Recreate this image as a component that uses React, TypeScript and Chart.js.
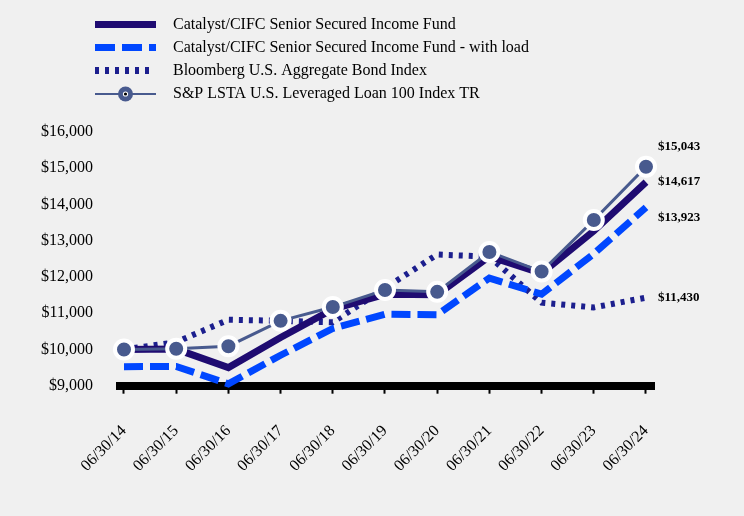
import React, { useEffect, useRef } from 'react';
import { Chart, registerables } from 'chart.js';

Chart.register(...registerables);

const xLabels = ['06/30/14', '06/30/15', '06/30/16', '06/30/17', '06/30/18', '06/30/19', '06/30/20', '06/30/21', '06/30/22', '06/30/23', '06/30/24'];
const fundValues = [10000, 10010, 9500, 10330, 11110, 11520, 11510, 12570, 12100, 13270, 14617];
const withLoadValues = [9525, 9530, 9050, 9840, 10580, 10970, 10960, 11970, 11525, 12640, 13923];
const bondValues = [10000, 10200, 10820, 10790, 10750, 11690, 12620, 12560, 11290, 11160, 11430];
const loanValues = [10000, 10020, 10090, 10790, 11170, 11640, 11590, 12690, 12150, 13570, 15043];
const seriesNames = [
  'Catalyst/CIFC Senior Secured Income Fund',
  'Catalyst/CIFC Senior Secured Income Fund - with load',
  'Bloomberg U.S. Aggregate Bond Index',
  'S&P LSTA U.S. Leveraged Loan 100 Index TR',
];

const FUND_COLOR = '#1f0b71';
const LOAD_COLOR = '#0047ff';
const BOND_COLOR = '#1c1f8e';
const LOAN_COLOR = '#485a8e';
const BG = '#f0f0f0';

const FONT_FAMILY = '"Liberation Serif", "Times New Roman", serif';

function makeLegendImage(kind: number): HTMLCanvasElement {
  const c = document.createElement('canvas');
  c.width = 117;
  c.height = 18;
  const ctx = c.getContext('2d')!;
  const x0 = 47;
  if (kind === 0) {
    ctx.fillStyle = FUND_COLOR;
    ctx.fillRect(x0, 5, 61, 7);
  } else if (kind === 1) {
    ctx.fillStyle = LOAD_COLOR;
    ctx.fillRect(x0, 5, 20, 7);
    ctx.fillRect(x0 + 27, 5, 20, 7);
    ctx.fillRect(x0 + 54, 5, 7, 7);
  } else if (kind === 2) {
    ctx.fillStyle = BOND_COLOR;
    for (let i = 0; i < 6; i++) ctx.fillRect(x0 + i * 10, 5, 4, 7);
  } else {
    ctx.fillStyle = LOAN_COLOR;
    ctx.fillRect(x0, 8, 61, 2);
    ctx.beginPath();
    ctx.arc(x0 + 30.5, 9, 7.5, 0, Math.PI * 2);
    ctx.fill();
    ctx.fillStyle = '#ffffff';
    ctx.beginPath();
    ctx.arc(x0 + 30.5, 9, 2.6, 0, Math.PI * 2);
    ctx.fill();
    ctx.fillStyle = '#000000';
    ctx.beginPath();
    ctx.arc(x0 + 30.5, 9, 1.6, 0, Math.PI * 2);
    ctx.fill();
  }
  return c;
}

const endLabelOffsets: { ds: number; dy: number }[] = [
  { ds: 3, dy: -20 },
  { ds: 0, dy: 0 },
  { ds: 1, dy: 10 },
  { ds: 2, dy: 0 },
];

const fmtMoney = (v: number) => '$' + Math.round(v).toLocaleString('en-US');

const endLabelPlugin = {
  id: 'endLabels',
  afterDatasetsDraw(chart: any) {
    const { ctx, chartArea, scales } = chart;
    ctx.save();
    ctx.font = 'bold 13px ' + FONT_FAMILY;
    ctx.fillStyle = '#000';
    ctx.textAlign = 'left';
    ctx.textBaseline = 'middle';
    endLabelOffsets.forEach(({ ds, dy }) => {
      const data = chart.data.datasets[ds].data as { x: number; y: number }[];
      const last = data[data.length - 1];
      const py = scales.y.getPixelForValue(last.y) + dy;
      ctx.fillText(fmtMoney(last.y), chartArea.right + 4, py);
    });
    ctx.restore();
  },
};

const toPoints = (vals: number[]) => vals.map((v, i) => ({ x: i, y: v }));

export default function App() {
  const ref = useRef<HTMLCanvasElement | null>(null);

  useEffect(() => {
    document.body.style.margin = '0';
    document.body.style.background = BG;
    Chart.defaults.font.family = FONT_FAMILY;
    Chart.defaults.color = '#000';
    const legendImages = [0, 1, 2, 3].map(makeLegendImage);

    const chart = new Chart(ref.current!, {
      type: 'line',
      data: {
        datasets: [
          {
            label: seriesNames[0],
            data: toPoints(fundValues),
            borderColor: FUND_COLOR,
            borderWidth: 7,
            borderJoinStyle: 'miter',
            pointRadius: 0,
            tension: 0,
            clip: false,
            order: 1,
          },
          {
            label: seriesNames[1],
            data: toPoints(withLoadValues),
            borderColor: LOAD_COLOR,
            borderWidth: 7,
            borderDash: [19, 7],
            pointRadius: 0,
            tension: 0,
            clip: false,
            order: 2,
          },
          {
            label: seriesNames[2],
            data: toPoints(bondValues),
            borderColor: BOND_COLOR,
            borderWidth: 6,
            borderDash: [4, 6],
            pointRadius: 0,
            tension: 0,
            clip: false,
            order: 3,
          },
          {
            label: seriesNames[3],
            data: toPoints(loanValues),
            borderColor: LOAN_COLOR,
            borderWidth: 3,
            pointRadius: 9,
            pointBorderWidth: 4,
            pointBackgroundColor: LOAN_COLOR,
            pointBorderColor: '#ffffff',
            tension: 0,
            clip: false,
            order: 0,
          },
        ],
      } as any,
      options: {
        responsive: false,
        animation: false,
        layout: { padding: { left: 41, right: 90, top: 10, bottom: 40 } },
        plugins: {
          legend: {
            display: true,
            position: 'top',
            align: 'start',
            labels: {
              usePointStyle: true,
              pointStyleWidth: 117,
              padding: 7,
              color: '#000',
              font: { size: 16, family: FONT_FAMILY },
              generateLabels: () =>
                seriesNames.map((name, i) => ({
                  text: name,
                  pointStyle: legendImages[i],
                  datasetIndex: i,
                  hidden: false,
                  fillStyle: 'transparent',
                  strokeStyle: 'transparent',
                  lineWidth: 0,
                  fontColor: '#000',
                })),
            },
          },
          subtitle: {
            display: true,
            text: '',
            position: 'top',
            weight: 500,
            padding: 0,
            font: { size: 20, lineHeight: 1 },
          },
          tooltip: { enabled: false },
        },
        scales: {
          x: {
            type: 'linear',
            min: -0.0766,
            max: 10.1533,
            afterFit: (scale: any) => {
              scale.height = 90.3;
            },
            grid: {
              display: true,
              drawOnChartArea: false,
              drawTicks: true,
              tickLength: 8,
              tickWidth: 2,
              color: '#000',
            },
            border: { display: true, color: '#000', width: 8 },
            ticks: {
              stepSize: 1,
              includeBounds: false,
              autoSkip: false,
              minRotation: 45,
              maxRotation: 45,
              padding: 28,
              color: '#000',
              font: { size: 16, family: FONT_FAMILY },
              callback: (v: any) => xLabels[Math.round(Number(v))] ?? '',
            },
          },
          y: {
            min: 9000,
            max: 16000,
            afterFit: (scale: any) => {
              scale.width = 79;
            },
            grid: { display: false, drawTicks: false },
            border: { display: false },
            ticks: {
              stepSize: 1000,
              padding: 27,
              color: '#000',
              font: { size: 16, family: FONT_FAMILY },
              callback: (v: any) => fmtMoney(Number(v)),
            },
          },
        },
      } as any,
      plugins: [endLabelPlugin],
    });
    return () => chart.destroy();
  }, []);

  return (
    <div style={{ width: 744, height: 516, background: BG }}>
      <canvas ref={ref} width={744} height={516} style={{ display: 'block' }} />
    </div>
  );
}
